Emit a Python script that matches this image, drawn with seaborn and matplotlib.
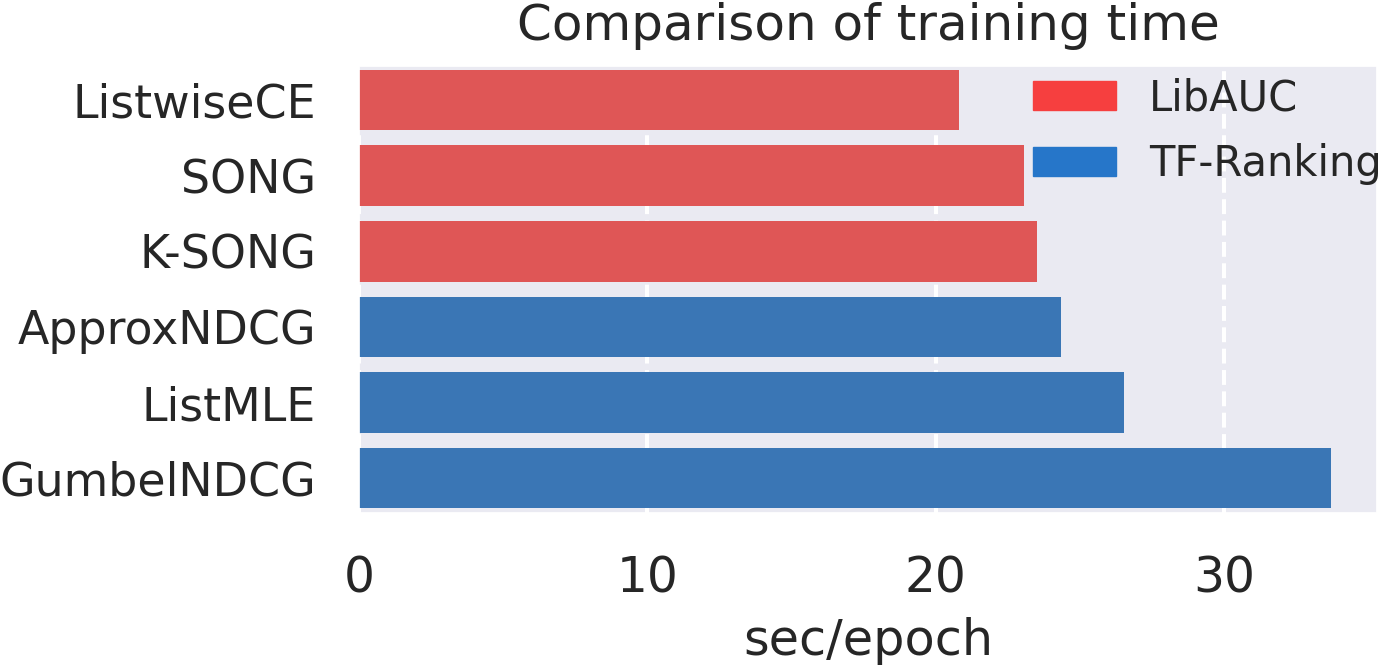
import matplotlib
matplotlib.use("Agg")
import matplotlib.pyplot as plt
from matplotlib.patches import Patch
import pandas as pd
import seaborn as sns

# values (sec/epoch)
methods = ["ListwiseCE", "SONG", "K-SONG", "ApproxNDCG", "ListMLE", "GumbelNDCG"]
times = [20.81, 23.07, 23.52, 24.35, 26.53, 33.71]
library = ["LibAUC", "LibAUC", "LibAUC", "TF-Ranking", "TF-Ranking", "TF-Ranking"]
lib_colors = {"LibAUC": "#f63f3f", "TF-Ranking": "#2676c9"}

df = pd.DataFrame({"method": methods, "time": times, "library": library})

sns.set_theme(style="darkgrid", rc={"grid.linewidth": 2.9, "grid.linestyle": "--"})
plt.rcParams["font.family"] = ["DejaVu Sans"]

fig, ax = plt.subplots(figsize=(13.99, 6.65), dpi=100)
sns.barplot(data=df, x="time", y="method", hue="library", palette=lib_colors,
            dodge=False, saturation=0.75, legend=False, linewidth=0, ax=ax)

ax.set_title("Comparison of training time", fontsize=36, pad=19)
ax.set_xlabel("sec/epoch", fontsize=35.5, labelpad=10)
ax.set_ylabel("")
ax.set_xticks([0, 10, 20, 30])
ax.set_xlim(0, 35.3)
ax.set_ylim(5.46, -0.45)
ax.tick_params(axis="x", labelsize=35, pad=30, length=0)
ax.tick_params(axis="y", labelsize=33, pad=31, length=0)

# legend uses the full (non-desaturated) colours
handles = [Patch(color=lib_colors[k], label=k) for k in lib_colors]
ax.legend(handles=handles, loc="upper left", bbox_to_anchor=(0.662, 0.975),
          frameon=False, fontsize=30, borderaxespad=0, borderpad=0,
          handlelength=2.0, handleheight=0.7, handletextpad=0.78,
          labelspacing=0.58)

fig.subplots_adjust(left=359 / 1399, right=1377 / 1399, top=1 - 66 / 665,
                    bottom=1 - 513 / 665)
fig.savefig("out.png", dpi=100)
